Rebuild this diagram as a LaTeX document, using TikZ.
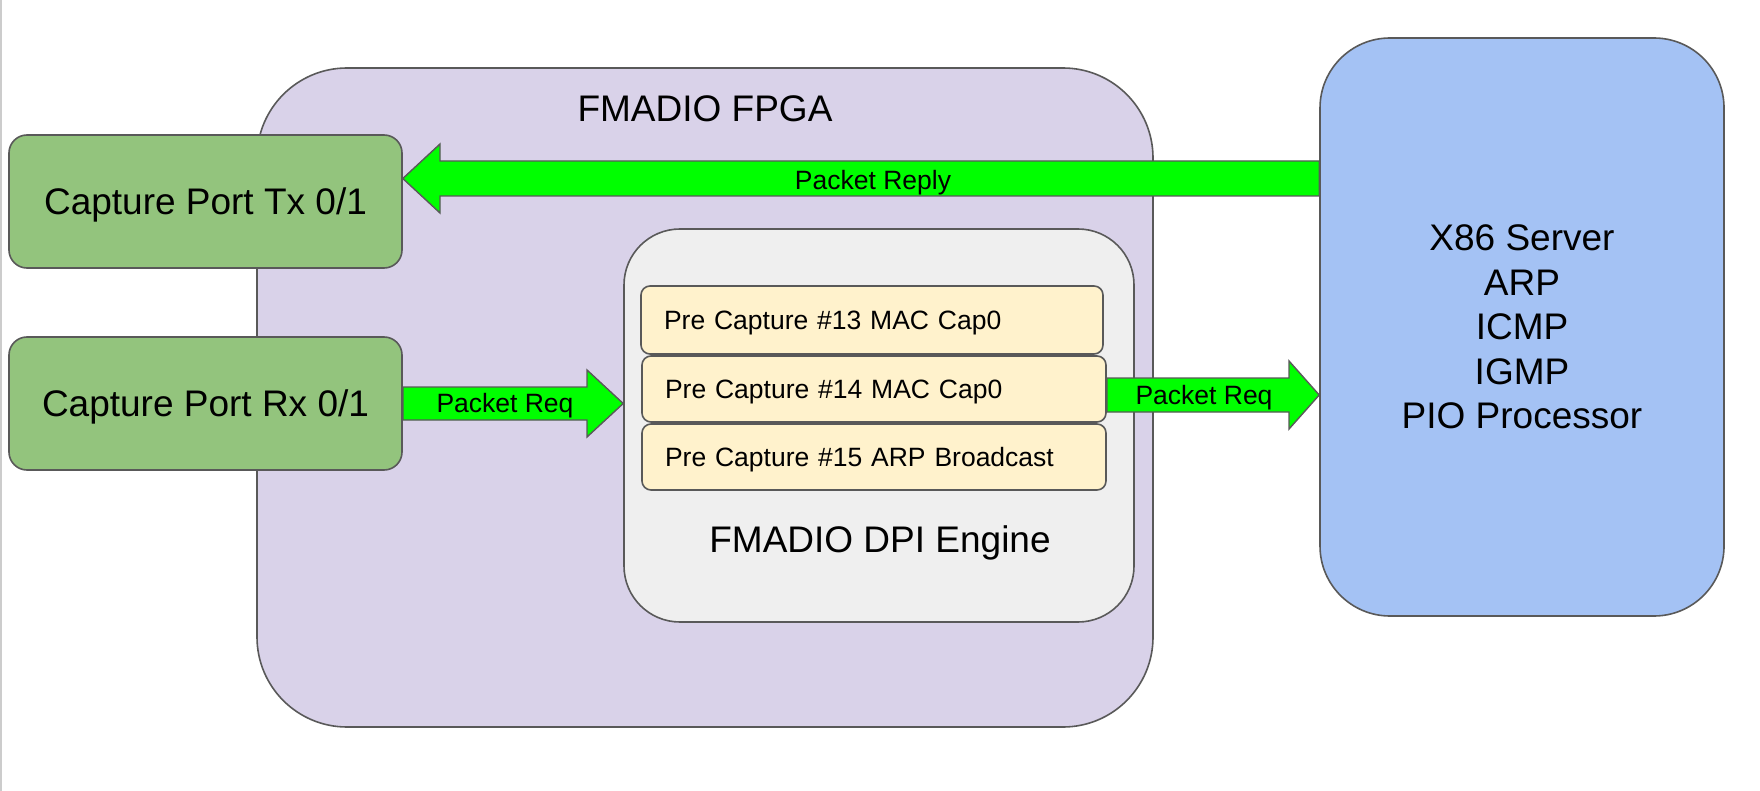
\documentclass[tikz,border=0pt]{standalone}
\usepackage{fontspec}
\setmainfont{Liberation Sans}
\definecolor{edge}{HTML}{595959}
\definecolor{portgreen}{HTML}{93C47D}
\definecolor{fpgabg}{HTML}{D9D2E9}
\definecolor{dpibg}{HTML}{EFEFEF}
\definecolor{pcbg}{HTML}{FFF2CC}
\definecolor{srvbg}{HTML}{A4C2F4}
\definecolor{arrowgreen}{HTML}{00FF00}
\definecolor{sideline}{HTML}{CCCCCC}
\tikzset{
  box/.style={draw=edge, line width=1.6pt, inner sep=0pt, align=center},
  bigtext/.style={font=\fontsize{37}{44.5}\selectfont, text depth=0pt},
  smalltext/.style={font=\fontsize{26.5}{32}\selectfont, text depth=0pt},
  pcbox/.style={box, fill=pcbg, rounded corners=9pt, minimum height=66pt,
    text width=418pt, inner xsep=23pt, align=left, smalltext},
  fat/.style={draw=edge, line width=1.4pt, fill=arrowgreen, line join=miter},
}
\begin{document}
\begin{tikzpicture}[x=1pt,y=-1pt]
\useasboundingbox (0,0) rectangle (1760,791);
\fill[white] (0,0) rectangle (1760,791);
\fill[sideline] (0,0) rectangle (2,791);

% FPGA container
\node[box, fill=fpgabg, rounded corners=90pt, minimum width=896pt, minimum height=659pt] (fpga) at (705,397.5) {};
\node[bigtext] (fpgalabel) at (705,109) {FMADIO FPGA};

% DPI engine
\node[box, fill=dpibg, rounded corners=56pt, minimum width=510pt, minimum height=393pt] (dpi) at (879,425.5) {};
\node[bigtext] (dpilabel) at (880,539) {FMADIO DPI Engine};

\node[pcbox, minimum height=68pt, text width=416pt] (pc13) at (872,320) {Pre Capture \#13 MAC Cap0};
\node[pcbox] (pc14) at (874,389) {Pre Capture \#14 MAC Cap0};
\node[pcbox] (pc15) at (874,457) {Pre Capture \#15 ARP Broadcast};

% Ports
\node[box, fill=portgreen, rounded corners=18pt, minimum width=393pt, minimum height=133pt, bigtext] (tx) at (205.5,201.5) {Capture Port Tx 0/1};
\node[box, fill=portgreen, rounded corners=18pt, minimum width=393pt, minimum height=133pt, bigtext] (rx) at (205.5,403.5) {Capture Port Rx 0/1};

% Server
\node[box, fill=srvbg, rounded corners=70pt, minimum width=404pt, minimum height=578pt, bigtext] (x86) at (1522,327) {X86 Server\\ARP\\ICMP\\IGMP\\PIO Processor};

% Packet Reply arrow (server -> Tx)
\draw[fat] (x86.west |- 0,161) -- (440,161) -- (440,144) -- (tx.east |- 0,178.5)
  -- (440,213) -- (440,196) -- (x86.west |- 0,196) -- cycle;
\node[smalltext] (lreply) at (873,180) {Packet Reply};

% Packet Req arrow (Rx -> DPI)
\draw[fat] (rx.east |- 0,387) -- (587,387) -- (587,370) -- (dpi.west |- 0,403.5)
  -- (587,437) -- (587,420) -- (rx.east |- 0,420) -- cycle;
\node[smalltext] (lreq1) at (505,403) {Packet Req};

% Packet Req arrow (DPI -> server)
\draw[fat] (pc14.east |- 0,378) -- (1289,378) -- (1289,361) -- (x86.west |- 0,395)
  -- (1289,429) -- (1289,412) -- (pc14.east |- 0,412) -- cycle;
\node[smalltext] (lreq2) at (1204,395) {Packet Req};
\end{tikzpicture}
\end{document}
